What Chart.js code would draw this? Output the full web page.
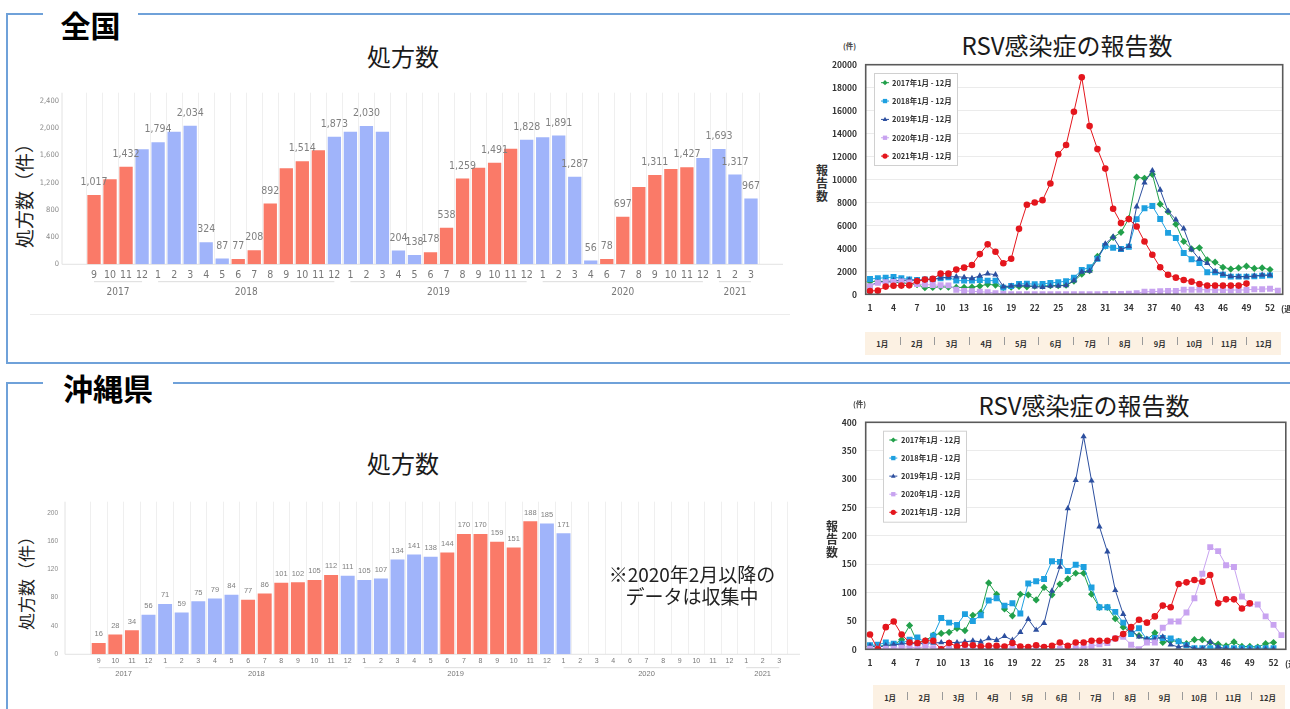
<!DOCTYPE html>
<html lang="ja">
<head>
<meta charset="utf-8">
<title>処方数とRSV感染症の報告数</title>
<script src="https://cdn.jsdelivr.net/npm/chart.js@4.4.1/dist/chart.umd.min.js"></script>
<style>
  html, body { margin: 0; padding: 0; background: #fff; }
  body { position: relative; width: 1290px; height: 709px; overflow: hidden;
         font-family: "Noto Sans CJK JP", "Noto Sans", sans-serif; color: #222; }
  canvas { position: absolute; }
  .box { position: absolute; left: 6px; width: 1320px; border: 2px solid #6fa1d9; box-sizing: border-box; }
  .heading { position: absolute; left: 43px; height: 36px; line-height: 36px; background: #fff;
             text-align: center; font-weight: bold; font-size: 30px; color: #000; }
  .title { position: absolute; width: 400px; text-align: center; font-size: 24px; line-height: 30px;
           color: #1a1a1a; white-space: nowrap; }
  .ylab { position: absolute; width: 200px; text-align: center; transform: rotate(-90deg);
          white-space: nowrap; color: #222; line-height: 24px; }
  .note { position: absolute; left: 572px; width: 240px; text-align: center; font-size: 19px;
          line-height: 22px; color: #222; }
  .unit { position: absolute; font-size: 7.5px; font-weight: bold; color: #444; white-space: nowrap; }
  .vlab { position: absolute; width: 16px; text-align: center; font-size: 12px; font-weight: bold;
          line-height: 12.8px; color: #333; }
  .week { position: absolute; font-size: 8.5px; font-weight: bold; color: #333; white-space: nowrap; }
  .band { position: absolute; display: flex; background: #fcf1e3; }
  .band span { flex: 1; position: relative; text-align: center; font-size: 7.5px; font-weight: bold; color: #333; }
  .band span + span::before { content: ""; position: absolute; left: 0; height: 8px; border-left: 1px solid #9a9a9a; }
  #bandTop span { line-height: 23px; }
  #bandTop span + span::before { top: 5px; }
  #bandOki span { line-height: 26px; }
  #bandOki span + span::before { top: 7px; }
  .rule { position: absolute; left: 30px; width: 760px; top: 314px; border-top: 1px solid #ececec; }
</style>
</head>
<body>

<div class="box" style="top:13px; height:351px;"></div>
<div class="box" style="top:382px; height:400px;"></div>
<div class="heading" style="top:6px; width:95px;">全国</div>
<div class="heading" style="top:369px; width:130px;">沖縄県</div>

<div class="title" style="left:203px; top:41px;">処方数</div>
<div class="ylab" style="left:-76px; top:179px; font-size:19px;">処方数（件）</div>
<canvas id="rxNationalChart" width="800" height="240" style="left:0; top:80px;"></canvas>
<div class="rule"></div>

<div class="title" style="left:867px; top:30px;">RSV感染症の報告数</div>
<div class="unit" style="left:843px; top:40px;">(件)</div>
<div class="vlab" style="left:814px; top:164px;">報<br>告<br>数</div>
<canvas id="rsvNationalChart" width="480" height="300" style="left:810px; top:30px;"></canvas>
<div class="week" style="left:1281px; top:302px;">(週</div>
<div class="band" id="bandTop" style="left:865px; top:332px; width:416px; height:23px;"></div>

<div class="title" style="left:203px; top:448px;">処方数</div>
<div class="ylab" style="left:-74px; top:567px; font-size:17px;">処方数（件）</div>
<canvas id="rxOkinawaChart" width="810" height="200" style="left:0; top:490px;"></canvas>
<div class="note" style="top:563px;">※2020年2月以降の<br>データは収集中</div>

<div class="title" style="left:884px; top:390px;">RSV感染症の報告数</div>
<div class="unit" style="left:853px; top:398px;">(件)</div>
<div class="vlab" style="left:824px; top:520px;">報<br>告<br>数</div>
<canvas id="rsvOkinawaChart" width="480" height="300" style="left:810px; top:390px;"></canvas>
<div class="week" style="left:1285px; top:657px;">(週</div>
<div class="band" id="bandOki" style="left:873px; top:685px; width:412px; height:26px;"></div>

<script>
// ---- 処方数: 2017年9月〜2021年3月（2020年5月は欠測） ----
const rxYears = ["2017", "2018", "2019", "2020", "2021"];
const rxYearMonths = [
  [9, 10, 11, 12],
  [1, 2, 3, 4, 5, 6, 7, 8, 9, 10, 11, 12],
  [1, 2, 3, 4, 5, 6, 7, 8, 9, 10, 11, 12],
  [1, 2, 3, 4, 6, 7, 8, 9, 10, 11, 12],
  [1, 2, 3],
];
const rxMonths = rxYearMonths.flat();

const rxNational = [
  1017, 1250, 1432, 1690,
  1794, 1945, 2034, 324, 87, 77, 208, 892, 1410, 1514, 1674, 1873,
  1945, 2030, 1945, 204, 138, 178, 538, 1259, 1419, 1491, 1698, 1828,
  1865, 1891, 1287, 56, 78, 697, 1135, 1311, 1400, 1427, 1561,
  1693, 1317, 967,
];
// 1 = value printed above the bar
const rxNationalShown = [
  1, 0, 1, 0,
  1, 0, 1, 1, 1, 1, 1, 1, 0, 1, 0, 1,
  0, 1, 0, 1, 1, 1, 1, 1, 0, 1, 0, 1,
  0, 1, 1, 1, 1, 1, 0, 1, 0, 1, 0,
  1, 1, 1,
];
const rxNationalTicks = [0, 400, 800, 1200, 1600, 2000, 2400];

const rxOkinawa = [
  16, 28, 34, 56,
  71, 59, 75, 79, 84, 77, 86, 101, 102, 105, 112, 111,
  105, 107, 134, 141, 138, 144, 170, 170, 159, 151, 188, 185,
  171, null, null, null, null, null, null, null, null, null, null,
  null, null, null,
];
const rxOkinawaShown = rxOkinawa.map(() => 1);
const rxOkinawaTicks = [0, 40, 80, 120, 160, 200];

// ---- RSV感染症の報告数（週別） ----
const weekTicks = [1, 4, 7, 10, 13, 16, 19, 22, 25, 28, 31, 34, 37, 40, 43, 46, 49, 52];
const monthNames = ["1月", "2月", "3月", "4月", "5月", "6月", "7月", "8月", "9月", "10月", "11月", "12月"];
const seasonLabels = ["2017年1月 - 12月", "2018年1月 - 12月", "2019年1月 - 12月", "2020年1月 - 12月", "2021年1月 - 12月"];

const rsvNational2017 = [1100, 1150, 1100, 1050, 1000, 950, 850, 580, 600, 650, 620, 600, 600, 620, 720, 870, 800, 600, 620, 680, 650, 700, 720, 750, 760, 790, 1150, 1750, 2050, 3300, 4200, 4950, 5400, 6600, 10200, 10100, 10450, 7850, 7200, 6100, 4600, 3950, 4050, 3000, 2800, 2350, 2200, 2300, 2450, 2250, 2300, 2150];
const rsvNational2018 = [1335, 1390, 1450, 1500, 1390, 1300, 1250, 1300, 1335, 1390, 1480, 1190, 1190, 1190, 1250, 1190, 1190, 580, 725, 900, 930, 870, 900, 990, 1045, 1150, 1450, 2120, 2350, 3100, 4200, 4050, 3950, 4150, 6550, 7490, 7690, 6560, 5350, 4900, 3600, 3060, 2730, 1915, 1915, 1710, 1540, 1540, 1540, 1560, 1620, 1650];
const rsvNational2019 = [750, 1050, 1100, 1190, 1190, 1250, 1190, 1250, 1300, 1420, 1510, 1540, 1480, 1390, 1600, 1800, 1710, 670, 725, 780, 780, 670, 610, 725, 725, 780, 1190, 1950, 2030, 3050, 4400, 5000, 3900, 4180, 7630, 9730, 10780, 9100, 7250, 6500, 5720, 3890, 3050, 2700, 2000, 1740, 1570, 1540, 1540, 1600, 1680, 1680];
const rsvNational2020 = [700, 1000, 1050, 1080, 1120, 1020, 900, 850, 810, 790, 780, 400, 300, 260, 230, 180, 100, 30, 15, 15, 15, 15, 15, 15, 15, 15, 15, 15, 15, 15, 20, 20, 30, 60, 90, 230, 230, 260, 290, 290, 400, 400, 400, 400, 380, 380, 360, 380, 380, 440, 440, 490, 320];
const rsvNational2021 = [290, 320, 670, 750, 760, 780, 1150, 1280, 1340, 1800, 1800, 2150, 2320, 2550, 3500, 4350, 3700, 2700, 3100, 5700, 7800, 8000, 8200, 9650, 12200, 13000, 15900, 18900, 14650, 12650, 10950, 7450, 6200, 6550, 5900, 4600, 3450, 2350, 1700, 1450, 1250, 1100, 900, 760, 760, 760, 760, 760, 930];

const rsvOkinawa2017 = [5, 6, 6, 8, 17, 42, 12, 15, 25, 28, 30, 37, 33, 60, 65, 117, 97, 71, 59, 97, 96, 87, 109, 96, 115, 124, 134, 134, 97, 74, 74, 54, 39, 30, 24, 17, 29, 12, 15, 14, 10, 17, 17, 12, 9, 6, 13, 5, 5, 4, 10, 12];
const rsvOkinawa2018 = [7, 8, 12, 10, 10, 17, 21, 12, 24, 55, 47, 43, 62, 50, 60, 86, 90, 77, 81, 63, 116, 120, 124, 155, 154, 138, 149, 145, 109, 74, 74, 66, 47, 27, 37, 17, 20, 20, 19, 14, 7, 2, 2, 2, 2, 2, 2, 2, 2, 2, 2, 2];
const rsvOkinawa2019 = [6, 3, 7, 8, 9, 11, 9, 11, 11, 12, 12, 12, 13, 15, 13, 19, 16, 23, 16, 30, 53, 34, 46, 103, 145, 248, 298, 375, 297, 216, 172, 104, 62, 34, 22, 18, 18, 22, 8, 4, 7, 1, 1, 13, 4, 1, 0, 0, 0, 0, 0, 0];
const rsvOkinawa2020 = [1, 1, 1, 1, 3, 5, 1, 6, 2, 1, 1, 1, 1, 1, 1, 2, 1, 1, 1, 1, 1, 1, 1, 1, 1, 1, 2, 3, 5, 9, 11, 19, 22, 8, 0, 12, 12, 38, 49, 49, 65, 90, 133, 180, 173, 148, 145, 93, 80, 79, 58, 43, 25];
const rsvOkinawa2021 = [26, 0, 39, 49, 26, 12, 11, 15, 15, 0, 11, 5, 8, 7, 5, 6, 6, 5, 11, 5, 4, 7, 4, 6, 12, 6, 12, 12, 15, 15, 15, 19, 27, 39, 52, 47, 58, 77, 74, 115, 118, 122, 119, 131, 81, 88, 88, 72, 81];

const seasonStyles = [
  { color: "#22a04b", point: "rectRot", radius: 3.6 },
  { color: "#1ea0e0", point: "rect", radius: 4.2 },
  { color: "#2c4f9f", point: "triangle", radius: 3.6 },
  { color: "#c8a3f0", point: "rect", radius: 4.2 },
  { color: "#e4161d", point: "circle", radius: 3.3 },
];

const cjk = '"Noto Sans CJK JP", sans-serif';
const narrow = '"Liberation Sans Narrow", "DejaVu Sans Condensed", Roboto, sans-serif';
const plain = '"Liberation Sans", Arial, sans-serif';
Chart.defaults.font.family = cjk;

function barColor(m) {
  return m >= 6 && m <= 11 ? "#fa7a68" : "#a0b4fa";
}

// numbers printed above the bars
const valueLabels = (shown, cfg) => ({
  id: "valueLabels",
  afterDatasetsDraw(chart) {
    const { ctx } = chart;
    const values = chart.data.datasets[0].data;
    ctx.save();
    ctx.font = `${cfg.labelSize}px ${cfg.font}`;
    ctx.fillStyle = "#808080";
    ctx.textAlign = "center";
    ctx.textBaseline = "middle";
    chart.getDatasetMeta(0).data.forEach((bar, i) => {
      if (values[i] == null || !shown[i]) return;
      ctx.fillText(values[i].toLocaleString("en-US"), bar.x, bar.y - cfg.labelGap);
    });
    ctx.restore();
  },
});

// thin axis lines that run a little past the bars
const rxAxes = (cfg) => ({
  id: "rxAxes",
  beforeDatasetsDraw(chart) {
    const { ctx, chartArea: a } = chart;
    ctx.save();
    ctx.strokeStyle = "#e2e2e2";
    ctx.lineWidth = 1;
    ctx.beginPath();
    ctx.moveTo(a.left - cfg.axisLeft, a.top);
    ctx.lineTo(a.left - cfg.axisLeft, a.bottom);
    ctx.lineTo(a.right + cfg.axisRight, a.bottom);
    ctx.stroke();
    ctx.restore();
  },
});

// year under each run of months, with a bracket line
const yearBrackets = (cfg) => ({
  id: "yearBrackets",
  afterDraw(chart) {
    const { ctx } = chart;
    const x = chart.scales.x;
    const bottom = chart.chartArea.bottom;
    ctx.save();
    ctx.strokeStyle = "#dcdcdc";
    ctx.lineWidth = 1;
    ctx.fillStyle = "#777";
    ctx.font = `${cfg.yearSize}px ${cfg.font}`;
    ctx.textAlign = "center";
    ctx.textBaseline = "middle";
    let idx = 0;
    rxYears.forEach((year, k) => {
      const first = idx;
      const last = idx + rxYearMonths[k].length - 1;
      idx = last + 1;
      const x1 = x.getPixelForValue(first);
      const x2 = x.getPixelForValue(last);
      ctx.beginPath();
      ctx.moveTo(x1, bottom + cfg.bracketY);
      ctx.lineTo(x2, bottom + cfg.bracketY);
      ctx.stroke();
      ctx.fillText(year, (x1 + x2) / 2, bottom + cfg.yearY);
    });
    ctx.restore();
  },
});

function rxChart(id, values, shown, yTicks, cfg) {
  return new Chart(document.getElementById(id), {
    type: "bar",
    data: {
      labels: rxMonths.map(String),
      datasets: [{
        data: values,
        backgroundColor: rxMonths.map(barColor),
        borderWidth: 0,
        barPercentage: cfg.barPct,
        categoryPercentage: 1,
      }],
    },
    options: {
      responsive: false,
      animation: false,
      devicePixelRatio: 1,
      layout: { padding: cfg.pad },
      plugins: { legend: { display: false }, tooltip: { enabled: false } },
      scales: {
        x: {
          grid: { color: "#efefef", drawTicks: false, offset: true },
          border: { display: false },
          ticks: { color: "#777", font: { family: cfg.font, size: cfg.tickSize }, padding: cfg.xPad, autoSkip: false, maxRotation: 0 },
          afterFit: (s) => { s.height = cfg.xHeight; },
        },
        y: {
          min: 0,
          max: cfg.yMax,
          // the gap to the labels comes from an undrawn tick length, so it
          // does not get added to the top padding the way ticks.padding does
          grid: { display: false, drawTicks: true, tickLength: cfg.yGap - 3 },
          border: { display: false },
          afterBuildTicks: (s) => { s.ticks = yTicks.map((v) => ({ value: v })); },
          ticks: {
            color: "#8a8a8a",
            font: { family: cfg.font, size: cfg.ySize },
            padding: 3,
            callback: (v) => v.toLocaleString("en-US"),
          },
          afterFit: (s) => { s.width = cfg.yWidth; },
        },
      },
    },
    plugins: [rxAxes(cfg), valueLabels(shown, cfg), yearBrackets(cfg)],
  });
}

rxChart("rxNationalChart", rxNational, rxNationalShown, rxNationalTicks, {
  font: narrow, yWidth: 86, pad: { left: 0, right: 41, top: 12.7, bottom: 15.7 }, xHeight: 40,
  yMax: 2520, yGap: 27, xPad: 5, tickSize: 10.5, ySize: 7.5,
  labelSize: 10.5, labelGap: 12.5, axisLeft: 24, axisRight: 24,
  bracketY: 17.4, yearY: 28, yearSize: 10, barPct: 0.83,
});

rxChart("rxOkinawaChart", rxOkinawa, rxOkinawaShown, rxOkinawaTicks, {
  font: plain, yWidth: 90.4, pad: { left: 0, right: 22.4, top: 11.7, bottom: 5.7 }, xHeight: 30,
  yMax: 215.7, yGap: 32.4, xPad: 2.5, tickSize: 7, ySize: 6.5,
  labelSize: 7.5, labelGap: 8.7, axisLeft: 25.4, axisRight: 12.4,
  bracketY: 13.4, yearY: 20, yearSize: 7.5, barPct: 0.84,
});

// ---- RSV line charts ----
function marker(ctx, style, x, y, r) {
  ctx.beginPath();
  if (style === "circle") {
    ctx.arc(x, y, r, 0, Math.PI * 2);
  } else if (style === "rect") {
    ctx.rect(x - r * 0.72, y - r * 0.72, r * 1.44, r * 1.44);
  } else if (style === "rectRot") {
    ctx.moveTo(x, y - r); ctx.lineTo(x + r, y); ctx.lineTo(x, y + r); ctx.lineTo(x - r, y);
    ctx.closePath();
  } else {
    ctx.moveTo(x, y - r); ctx.lineTo(x + r * 0.9, y + r * 0.6); ctx.lineTo(x - r * 0.9, y + r * 0.6);
    ctx.closePath();
  }
  ctx.fill();
}

const plotFrame = {
  id: "plotFrame",
  afterDatasetsDraw(chart) {
    const { ctx, chartArea: a } = chart;
    ctx.save();
    ctx.strokeStyle = "#5a5a5a";
    ctx.lineWidth = 1.6;
    ctx.strokeRect(a.left, a.top, a.width, a.height);
    ctx.restore();
  },
};

const insideLegend = (box) => ({
  id: "insideLegend",
  afterDraw(chart) {
    const { ctx } = chart;
    ctx.save();
    ctx.fillStyle = "#fff";
    ctx.fillRect(box.x, box.y, box.w, box.h);
    ctx.strokeStyle = "#d0d0d0";
    ctx.lineWidth = 1;
    ctx.strokeRect(box.x + 0.5, box.y + 0.5, box.w, box.h);
    ctx.font = `bold 7.5px ${cjk}`;
    ctx.textBaseline = "middle";
    chart.data.datasets.forEach((ds, k) => {
      const y = box.y0 + k * box.dy;
      const st = seasonStyles[k];
      ctx.strokeStyle = st.color;
      ctx.beginPath();
      ctx.moveTo(box.mx - 4, y);
      ctx.lineTo(box.mx + 4, y);
      ctx.stroke();
      ctx.fillStyle = st.color;
      marker(ctx, st.point, box.mx, y, st.point === "rect" ? 3 : 2.6);
      ctx.fillStyle = "#333";
      ctx.fillText(ds.label, box.tx, y);
    });
    ctx.restore();
  },
});

function rsvChart(id, series, cfg) {
  return new Chart(document.getElementById(id), {
    type: "line",
    data: {
      datasets: series.map((vals, k) => ({
        label: seasonLabels[k],
        data: vals.map((v, i) => ({ x: i + 1, y: v })),
        borderColor: seasonStyles[k].color,
        backgroundColor: seasonStyles[k].color,
        pointBackgroundColor: seasonStyles[k].color,
        pointBorderColor: seasonStyles[k].color,
        pointBorderWidth: 0,
        pointStyle: seasonStyles[k].point,
        pointRadius: seasonStyles[k].radius,
        borderWidth: 1,
        tension: 0,
        order: series.length - 1 - k,
      })),
    },
    options: {
      responsive: false,
      animation: false,
      devicePixelRatio: 1,
      layout: { padding: cfg.pad },
      plugins: { legend: { display: false }, tooltip: { enabled: false } },
      scales: {
        x: {
          type: "linear",
          min: cfg.xMin,
          max: cfg.xMax,
          grid: { display: false, drawTicks: false },
          border: { display: false },
          afterBuildTicks: (s) => { s.ticks = weekTicks.map((v) => ({ value: v })); },
          ticks: {
            autoSkip: false, maxRotation: 0, padding: cfg.xPad, color: "#333",
            font: { family: cjk, size: 8.5, weight: "bold" },
            callback: (v) => String(v),
          },
          afterFit: (s) => { s.height = 30; },
        },
        y: {
          min: 0,
          max: cfg.yMax,
          grid: { color: "#ebebeb", drawTicks: false },
          border: { display: false },
          ticks: {
            stepSize: cfg.step, padding: cfg.yPad, color: "#333",
            font: { family: cjk, size: 8.5, weight: "bold" },
            callback: (v) => String(v),
          },
          afterFit: (s) => { s.width = 55.7; },
        },
      },
    },
    plugins: [plotFrame, insideLegend(cfg.legend)],
  });
}

rsvChart("rsvNationalChart",
  [rsvNational2017, rsvNational2018, rsvNational2019, rsvNational2020, rsvNational2021], {
    pad: { left: 0, right: 7.3, top: 34.7, bottom: 5.7 },
    xMin: 0.452, xMax: 53.62, yMax: 20000, step: 2000, yPad: 8.7, xPad: 8.6,
    legend: { x: 64, y: 43, w: 83, h: 92, y0: 52.7, dy: 18.35, mx: 75, tx: 82 },
  });

rsvChart("rsvOkinawaChart",
  [rsvOkinawa2017, rsvOkinawa2018, rsvOkinawa2019, rsvOkinawa2020, rsvOkinawa2021], {
    pad: { left: 0, right: 2.7, top: 32.3, bottom: 10.7 },
    xMin: 0.458, xMax: 53.55, yMax: 400, step: 50, yPad: 9, xPad: 8.6,
    legend: { x: 73, y: 40.7, w: 83, h: 91, y0: 50, dy: 18.07, mx: 83.3, tx: 91 },
  });

// month strips under the week axis
["bandTop", "bandOki"].forEach((id) => {
  const band = document.getElementById(id);
  monthNames.forEach((m) => {
    const cell = document.createElement("span");
    cell.textContent = m;
    band.appendChild(cell);
  });
});
</script>
</body>
</html>
